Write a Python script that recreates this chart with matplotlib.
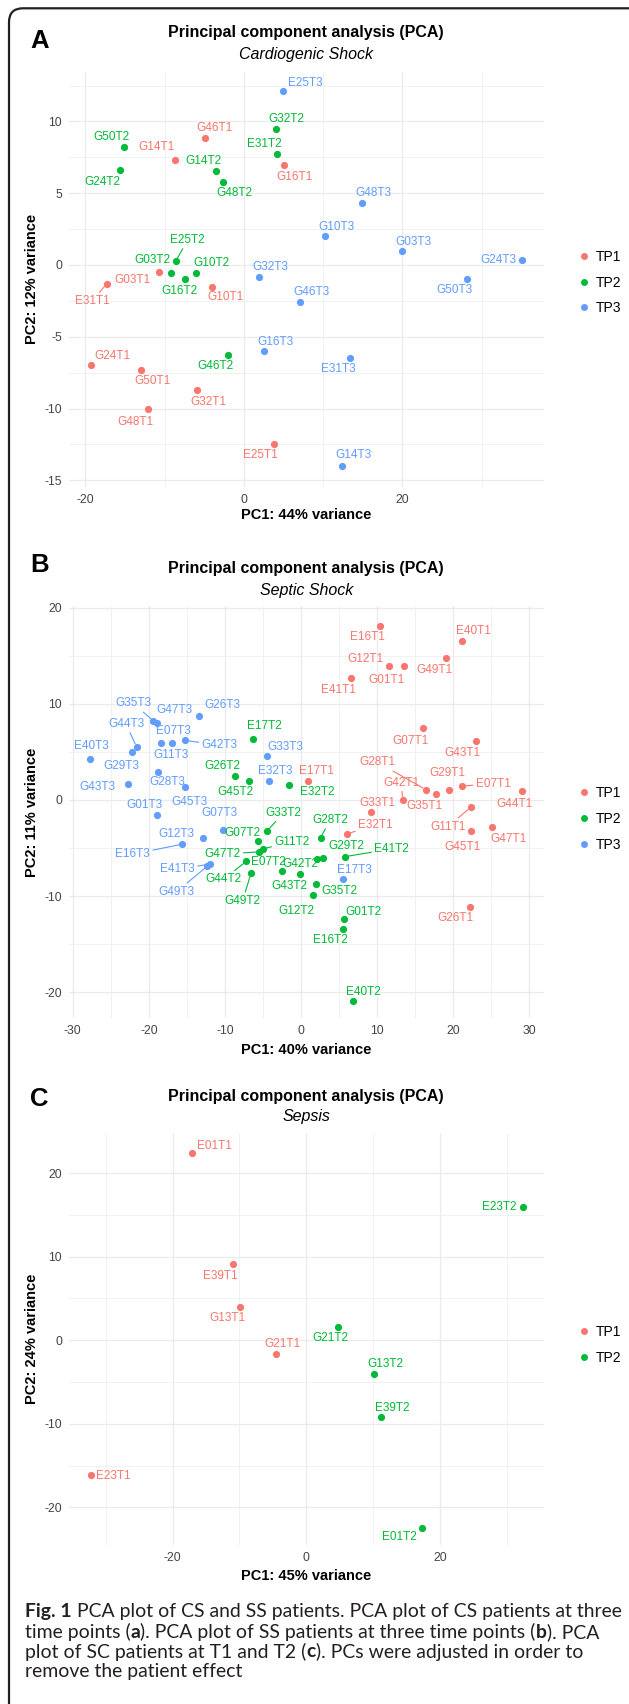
import matplotlib
matplotlib.use('Agg')
import matplotlib.pyplot as plt
from matplotlib.patches import FancyBboxPatch
from matplotlib.lines import Line2D
from matplotlib.transforms import Affine2D

W, H, DPI = 629, 1704, 100

plt.rcParams['font.family'] = ['Liberation Sans', 'DejaVu Sans']
plt.rcParams['axes.unicode_minus'] = False

TP_COLORS = {'TP1': '#F8766D', 'TP2': '#00BA38', 'TP3': '#619CFF'}
GRID = '#EBEBEB'
TICK_COL = '#444444'

# ---------------- A: cardiogenic shock ----------------
cs_names = ['E25T3', 'G32T2', 'G46T1', 'G50T2', 'G14T1', 'E31T2', 'G16T1', 'G24T2', 'G14T2',
            'G48T2', 'G48T3', 'G10T3', 'G03T3', 'G24T3', 'G50T3', 'E25T2', 'G03T2', 'G16T2',
            'G10T2', 'G03T1', 'E31T1', 'G10T1', 'G32T3', 'G46T3', 'G16T3', 'G46T2', 'E31T3',
            'G24T1', 'G50T1', 'G32T1', 'G48T1', 'E25T1', 'G14T3']
cs_pc1 = [4.94, 4.0, -4.95, -15.06, -8.74, 4.14, 5.0, -15.67, -3.54,
          -2.68, 14.94, 10.24, 20.0, 35.05, 28.12, -8.59, -9.2, -7.42,
          -6.06, -10.7, -17.3, -4.05, 1.97, 7.06, 2.5, -1.97, 13.4,
          -19.3, -12.94, -5.86, -12.12, 3.79, 12.42]
cs_pc2 = [12.15, 9.5, 8.83, 8.22, 7.34, 7.71, 6.97, 6.6, 6.55,
          5.76, 4.32, 2.0, 0.98, 0.37, -0.98, 0.28, -0.53, -0.98,
          -0.56, -0.49, -1.32, -1.53, -0.86, -2.6, -6.02, -6.3, -6.46,
          -6.97, -7.3, -8.71, -10.06, -12.45, -13.98]
cs_tp = ['TP3', 'TP2', 'TP1', 'TP2', 'TP1', 'TP2', 'TP1', 'TP2', 'TP2',
         'TP2', 'TP3', 'TP3', 'TP3', 'TP3', 'TP3', 'TP2', 'TP2', 'TP2',
         'TP2', 'TP1', 'TP1', 'TP1', 'TP3', 'TP3', 'TP3', 'TP2', 'TP3',
         'TP1', 'TP1', 'TP1', 'TP1', 'TP1', 'TP3']

# ---------------- B: septic shock ----------------
ss_names = ['G35T3', 'G47T3', 'G26T3', 'G44T3', 'G29T3', 'E07T3', 'G11T3', 'G42T3', 'E40T3',
            'G28T3', 'G43T3', 'G45T3', 'G01T3', 'G07T3', 'G12T3', 'E16T3', 'E41T3', 'G49T3',
            'G33T3', 'E32T3', 'E17T3',
            'E17T2', 'G26T2', 'G45T2', 'E32T2', 'G33T2', 'G07T2', 'G28T2', 'G11T2', 'G47T2',
            'G29T2', 'G42T2', 'E41T2', 'E07T2', 'G43T2', 'G44T2', 'G49T2', 'G35T2', 'G12T2',
            'G01T2', 'E16T2', 'E40T2',
            'E16T1', 'E40T1', 'G49T1', 'G12T1', 'G01T1', 'E41T1', 'G07T1', 'G43T1', 'E17T1',
            'G28T1', 'G29T1', 'E07T1', 'G35T1', 'G42T1', 'G44T1', 'G33T1', 'G11T1', 'E32T1',
            'G45T1', 'G47T1', 'G26T1']
ss_pc1 = [-19.4, -18.9, -13.4, -21.6, -22.2, -17.0, -18.35, -15.2, -27.7,
          -18.8, -22.7, -15.3, -18.9, -10.2, -12.9, -15.6, -11.98, -12.3,
          -4.47, -4.16, 5.5,
          -6.3, -8.64, -6.9, -1.62, -4.47, -5.66, 2.56, -5.05, -5.48,
          2.95, 2.07, 5.76, -2.49, -0.12, -7.19, -6.58, 1.99, 1.54,
          5.6, 5.5, 6.77,
          10.4, 21.15, 19.03, 11.58, 13.53, 6.56, 16.02, 23.0, 0.95,
          16.43, 19.46, 21.13, 17.7, 13.36, 29.1, 9.14, 22.3, 6.0,
          22.4, 25.05, 22.2]
ss_pc2 = [8.23, 8.0, 8.7, 5.5, 4.97, 5.9, 5.94, 6.2, 4.3,
          2.9, 1.67, 1.32, -1.53, -3.09, -3.92, -4.6, -6.67, -6.88,
          4.55, 2.0, -8.27,
          6.35, 2.5, 1.95, 1.56, -3.23, -4.27, -3.92, -5.1, -5.4,
          -6.07, -6.15, -5.9, -7.36, -7.7, -6.39, -7.64, -8.75, -9.93,
          -12.4, -13.47, -20.9,
          18.1, 16.6, 14.76, 13.93, 13.93, 12.67, 7.47, 6.11, 2.0,
          1.07, 1.07, 1.46, 0.62, -0.03, 0.97, -1.28, -0.76, -3.54,
          -3.23, -2.85, -11.1]
ss_tp = ['TP3'] * 21 + ['TP2'] * 21 + ['TP1'] * 21

# ---------------- C: sepsis ----------------
sc_names = ['E01T1', 'E39T1', 'G13T1', 'G21T1', 'E23T1', 'E23T2', 'G21T2', 'G13T2', 'E39T2', 'E01T2']
sc_pc1 = [-17.05, -11.0, -9.9, -4.5, -32.2, 32.4, 4.75, 10.15, 11.17, 17.25]
sc_pc2 = [22.4, 9.07, 4.0, -1.68, -16.07, 15.98, 1.6, -4.08, -9.16, -22.47]
sc_tp = ['TP1'] * 5 + ['TP2'] * 5

# label placement (pixels right / down from the point, draw segment?)
cs_label_off = {
    'E25T3': (22.5, -7.3, 0), 'G32T2': (10.8, -9.7, 0), 'G46T1': (10, -10, 0),
    'G50T2': (-13.2, -10.3, 0), 'G14T1': (-18, -13, 0), 'E31T2': (-12, -10, 0),
    'G16T1': (10.8, 12.3, 0), 'G24T2': (-17.2, 12, 0), 'G14T2': (-12.4, -10, 0),
    'G48T2': (12, 11, 0), 'G48T3': (11.2, -9.7, 0), 'G10T3': (11.6, -9.7, 0),
    'G03T3': (11.2, -9.3, 0), 'G24T3': (-23.7, 0, 0), 'G50T3': (-12.8, 11, 0),
    'E25T2': (12, -21, 1), 'G03T2': (-18.4, -12.7, 0), 'G10T2': (15.6, -10, 0),
    'G16T2': (-5.2, 11.7, 0), 'G03T1': (-26.5, 8, 0), 'E31T1': (-14.8, 17, 1),
    'G10T1': (14, 10.3, 0), 'G32T3': (11.2, -10, 0), 'G46T3': (11.6, -10, 0),
    'G16T3': (12, -9.7, 0), 'G46T2': (-12.4, 10.7, 0), 'E31T3': (-12, 11.3, 0),
    'G24T1': (21.7, -9.3, 0), 'G50T1': (11.2, 11.7, 0), 'G32T1': (11.2, 11.7, 0),
    'G48T1': (-12.8, 12.3, 0), 'E25T1': (-13.2, 11.7, 0), 'G14T3': (11.2, -10.3, 0),
}
ss_label_off = {
    'G35T3': (-20.3, -17.7, 1), 'G47T3': (17, -13, 0), 'G26T3': (23.7, -11.3, 0),
    'G44T3': (-10.7, -23.3, 1), 'G29T3': (-11, 13.7, 0), 'E07T3': (1.3, -12.3, 0),
    'G11T3': (9.3, 12.3, 0), 'G42T3': (34, 4.7, 1), 'E40T3': (0.7, -13, 0),
    'G28T3': (9.7, 9.7, 0), 'G43T3': (-31, 3.3, 0), 'G45T3': (5, 15, 0),
    'G01T3': (-13, -9.7, 0), 'G07T3': (-4.3, -16.3, 0), 'G12T3': (-27, -3.7, 0),
    'E16T3': (-49.7, 10, 1), 'E41T3': (-32.3, 5.3, 1), 'G49T3': (-31, 25.7, 1),
    'G33T3': (18.3, -9.7, 0), 'E32T3': (5.7, -10, 0), 'E17T3': (11.7, -9.3, 0),
    'E17T2': (11.3, -13.3, 0), 'G26T2': (-13.3, -10, 0), 'G45T2': (-12.7, 11, 0),
    'E32T2': (29, 7.3, 0), 'G33T2': (16.7, -18.3, 1), 'G07T2': (-15.3, -7.7, 0),
    'G28T2': (9.7, -17.7, 1), 'G11T2': (29.3, -7.3, 1), 'G47T2': (-36.7, 2.3, 1),
    'G29T2': (22.7, -12.7, 0), 'G42T2': (-16.7, 5, 0), 'E41T2': (46.7, -7.7, 1),
    'E07T2': (-13.3, -9, 0), 'G43T2': (-10.7, 11.7, 0), 'G44T2': (-23, 18, 1),
    'G49T2': (-8.3, 27.3, 1), 'G35T2': (23.3, 7, 0), 'G12T2': (-16.7, 15.7, 0),
    'G01T2': (19.3, -7.3, 0), 'E16T2': (-12.7, 10.7, 0), 'E40T2': (11.2, -9, 0),
    'E16T1': (-12.4, 10.7, 0), 'E40T1': (11.2, -10, 0), 'G49T1': (-11.6, 11.7, 0),
    'G12T1': (-23.7, -7.3, 0), 'G01T1': (-17.2, 13.7, 0), 'E41T1': (-12.4, 11.7, 0),
    'G07T1': (-12.8, 12.3, 0), 'G43T1': (-13.6, 12, 0), 'E17T1': (8.3, -10, 0),
    'G28T1': (-48.5, -27.4, 1), 'G29T1': (-1.7, -16.3, 0), 'E07T1': (31.3, -2, 1),
    'G35T1': (-11, 11.7, 0), 'G42T1': (-1.3, -17.7, 1), 'G44T1': (-7.7, 13.3, 0),
    'G33T1': (6.7, -9.7, 0), 'G11T1': (-22.7, 19.3, 1), 'E32T1': (28.7, -9, 1),
    'G45T1': (-9, 16.3, 0), 'G47T1': (17.3, 11.3, 0), 'G26T1': (-14, 11.7, 0),
}
sc_label_off = {
    'E01T1': (22.5, -7.3, 0), 'E39T1': (-12, 12, 0), 'G13T1': (-12.8, 11.3, 0),
    'G21T1': (6, -10.3, 0), 'E23T1': (22.5, 1.7, 0), 'E23T2': (-23.3, 0, 0),
    'G21T2': (-8, 11.3, 0), 'G13T2': (11.2, -10, 0), 'E39T2': (11.6, -9.3, 0),
    'E01T2': (-22, 9, 0),
}

fig = plt.figure(figsize=(W / DPI, H / DPI), dpi=DPI)
fig.patch.set_facecolor('white')
PX = Affine2D().scale(1 / DPI) + fig.dpi_scale_trans  # pixel (from bottom-left) -> display

# outer rounded frame (only left and top edges fall inside the image)
frame = FancyBboxPatch((9, -40), 700, H - 8.3 + 40, boxstyle='round,pad=0,rounding_size=14',
                       transform=PX, facecolor='none', edgecolor='#231F20', linewidth=1.6)
fig.add_artist(frame)

LEFT, RIGHT = 69, 543.5


def fx(px):
    return px / W


def fy(py):
    return 1 - py / H


def panel(top, bottom):
    return fig.add_axes([fx(LEFT), fy(bottom), (RIGHT - LEFT) / W, (bottom - top) / H])


def draw_panel(ax, names, pc1, pc2, tps, offs, tp_list, top, bottom, xlim, ylim,
               xmaj, xmin, ymaj, ymin, xlabel, ylabel, xlab_y, leg_y):
    for tp in tp_list:
        idx = [i for i, t in enumerate(tps) if t == tp]
        ax.scatter([pc1[i] for i in idx], [pc2[i] for i in idx], s=27,
                   color=TP_COLORS[tp], linewidths=0, zorder=3)
    for n, x, y, tp in zip(names, pc1, pc2, tps):
        dx, dy, seg = offs[n]
        c = TP_COLORS[tp]
        ap = dict(arrowstyle='-', color=c, lw=0.8, shrinkA=0, shrinkB=2.5) if seg else None
        ax.annotate(n, (x, y), xytext=(dx, -dy), textcoords='offset pixels',
                    ha='center', va='center', fontsize=8.5, color=c, zorder=4,
                    arrowprops=ap)
    ax.set_xlim(*xlim)
    ax.set_ylim(*ylim)
    ax.set_xticks(xmaj)
    ax.set_xticks(xmin, minor=True)
    ax.set_yticks(ymaj)
    ax.set_yticks(ymin, minor=True)
    ax.grid(which='major', color=GRID, lw=0.9)
    ax.grid(which='minor', color=GRID, lw=0.5)
    ax.set_axisbelow(True)
    for s in ax.spines.values():
        s.set_visible(False)
    ax.tick_params(which='both', length=0, pad=5, labelsize=8.8, labelcolor=TICK_COL)
    ax.set_xlabel(xlabel, fontsize=10.5, fontweight='bold', va='center')
    ax.xaxis.set_label_coords(0.5, -(xlab_y - bottom) / (bottom - top))
    ax.set_ylabel(ylabel, fontsize=10.5, fontweight='bold', va='center')
    ax.yaxis.set_label_coords(-(LEFT - 32) / (RIGHT - LEFT), 0.5)
    handles = [Line2D([0], [0], marker='o', ls='', markersize=5, markeredgewidth=0,
                      color=TP_COLORS[tp]) for tp in tp_list]
    ax.legend(handles, tp_list, loc='center left',
              bbox_to_anchor=((578.5 - LEFT) / (RIGHT - LEFT), 1 - (leg_y - top) / (bottom - top)),
              frameon=False, fontsize=10, handlelength=0.8, handletextpad=0.45,
              labelspacing=0.85, borderpad=0, borderaxespad=0)


def headings(letter, letter_y, title_y, sub_y, subtitle):
    cx = fx((LEFT + RIGHT) / 2)
    fig.text(fx(39.5), fy(letter_y), letter, fontsize=18.5, fontweight='bold',
             ha='center', va='center', color='black')
    fig.text(cx, fy(title_y), 'Principal component analysis (PCA)', fontsize=11.5,
             fontweight='bold', ha='center', va='center', color='black')
    fig.text(cx, fy(sub_y), subtitle, fontsize=11.5, style='italic',
             ha='center', va='center', color='black')


# panel A
axA = panel(71.7, 487)
draw_panel(axA, cs_names, cs_pc1, cs_pc2, cs_tp, cs_label_off, ['TP1', 'TP2', 'TP3'],
           71.7, 487, (-22.06, 37.8), (-15.47, 13.47),
           [-20, 0, 20], [-10, 10, 30], [-15, -10, -5, 0, 5, 10],
           [-12.5, -7.5, -2.5, 2.5, 7.5, 12.5],
           'PC1: 44% variance', 'PC2: 12% variance', 515, 282.5)
headings('A', 41, 32.3, 55, 'Cardiogenic Shock')

# panel B
axB = panel(606, 1018)
draw_panel(axB, ss_names, ss_pc1, ss_pc2, ss_tp, ss_label_off, ['TP1', 'TP2', 'TP3'],
           606, 1018, (-30.5, 31.87), (-22.7, 20.2),
           [-30, -20, -10, 0, 10, 20, 30], [-25, -15, -5, 5, 15, 25],
           [-20, -10, 0, 10, 20], [-15, -5, 5, 15],
           'PC1: 40% variance', 'PC2: 11% variance', 1050, 819)
headings('B', 565, 568.3, 591, 'Septic Shock')

# panel C
axC = panel(1133, 1545)
draw_panel(axC, sc_names, sc_pc1, sc_pc2, sc_tp, sc_label_off, ['TP1', 'TP2'],
           1133, 1545, (-35.5, 35.5), (-24.5, 24.8),
           [-20, 0, 20], [-30, -10, 10, 30], [-20, -10, 0, 10, 20], [-15, -5, 5, 15],
           'PC1: 45% variance', 'PC2: 24% variance', 1576, 1345)
headings('C', 1099, 1096.7, 1116.7, 'Sepsis')

# ---------------- caption ----------------
CAP_FONT = ['Lato', 'DejaVu Sans']
CAP_COL = '#231F20'
caption_lines = [
    [('Fig. 1', True), (' PCA plot of CS and SS patients. PCA plot of CS patients at three', False)],
    [('time points (', False), ('a', True), ('). PCA plot of SS patients at three time points (', False),
     ('b', True), ('). PCA', False)],
    [('plot of SC patients at T1 and T2 (', False), ('c', True), ('). PCs were adjusted in order to', False)],
    [('remove the patient effect', False)],
]
caption_y = [1612, 1632, 1651.5, 1671]

renderer = fig.canvas.get_renderer()


def text_w(s, size, bold):
    t = fig.text(0, 0, s, fontsize=size, fontweight='bold' if bold else 'normal', family=CAP_FONT)
    w = t.get_window_extent(renderer).width
    t.remove()
    return w


def line_w(pieces, size):
    sp = text_w('a a', size, False) - text_w('aa', size, False)
    tot = 0
    for s, b in pieces:
        if s.startswith(' '):
            tot += sp
        tot += text_w(s.strip(), size, b)
    return tot, sp


cap_size = 10 * 596 / line_w(caption_lines[0], 10)[0]
for pieces, y in zip(caption_lines, caption_y):
    x = 25
    sp = line_w(pieces, cap_size)[1]
    for s, b in pieces:
        if s.startswith(' '):
            x += sp
        s = s.strip()
        t = fig.text(fx(x), fy(y), s, fontsize=cap_size, fontweight='bold' if b else 'normal',
                     family=CAP_FONT, color=CAP_COL, ha='left', va='center')
        x += t.get_window_extent(renderer).width

fig.savefig('out.png', dpi=DPI, facecolor='white')
